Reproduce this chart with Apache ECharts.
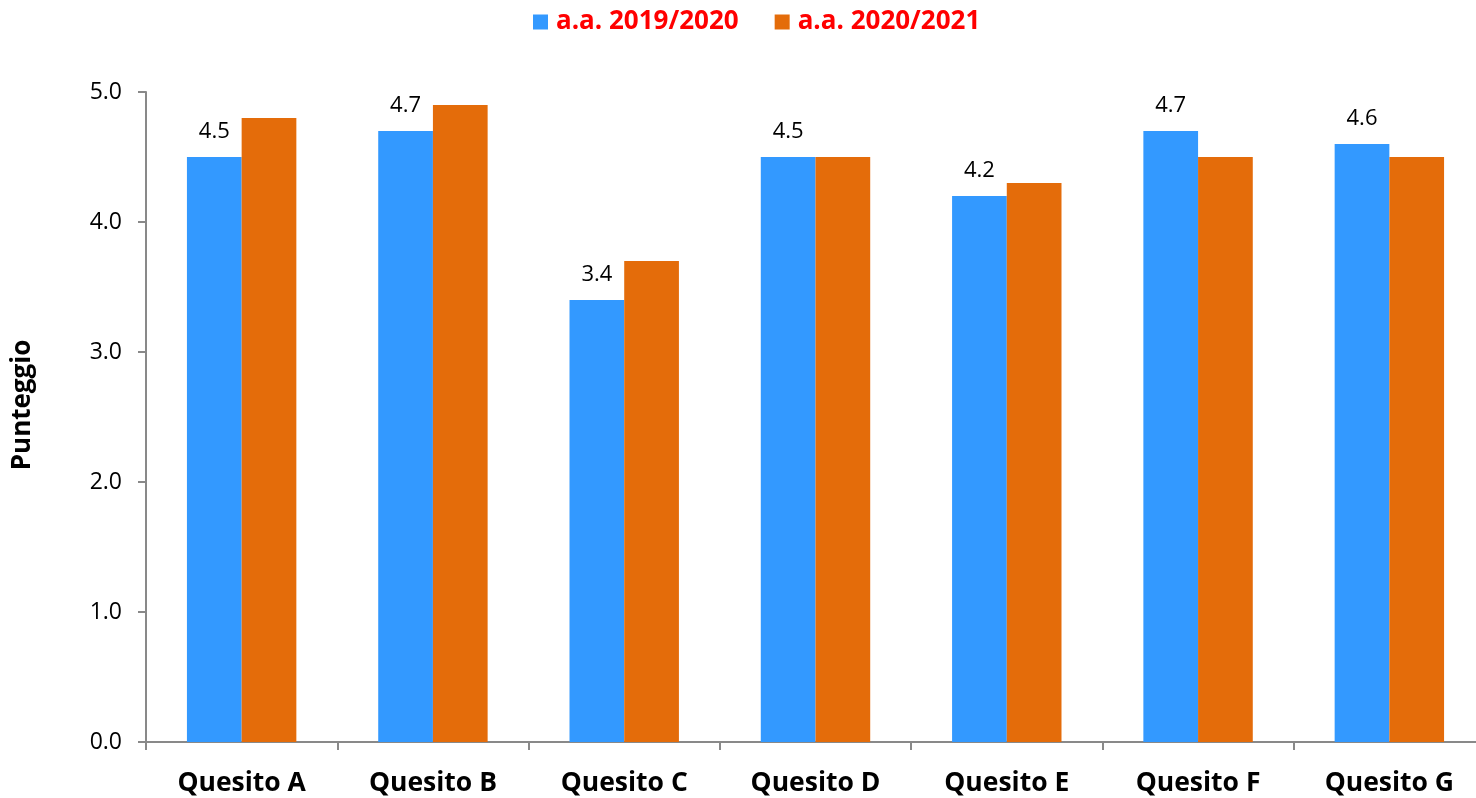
<!DOCTYPE html>
<html><head><meta charset="utf-8">
<script src="https://cdn.jsdelivr.net/npm/echarts@6/dist/echarts.min.js"></script>
<style>html,body{margin:0;padding:0;background:#fff}#c{width:1476px;height:798px}</style>
</head><body><div id="c"></div>
<script>
const categories = ['Quesito A','Quesito B','Quesito C','Quesito D','Quesito E','Quesito F','Quesito G'];
const series2019 = [4.5, 4.7, 3.4, 4.5, 4.2, 4.7, 4.6];
const series2020 = [4.8, 4.9, 3.7, 4.5, 4.3, 4.5, 4.5];
const seriesNames = ['a.a. 2019/2020', 'a.a. 2020/2021'];
const yName = 'Punteggio';
const font = '"Open Sans", sans-serif';
const chart = echarts.init(document.getElementById('c'), null, {renderer:'canvas'});
chart.setOption({
  animation:false,
  textStyle:{fontFamily:font},
  legend:{
    top:4, left:528, itemWidth:15, itemHeight:15, itemGap:36,
    icon:'rect',
    textStyle:{color:'#ff0000', fontWeight:'bold', fontSize:26, fontFamily:font, padding:[0,0,0,3]},
    data:seriesNames
  },
  grid:{left:146, top:92, width:1339, height:650, containLabel:false, outerBoundsMode:'none'},
  xAxis:{
    type:'category', data:categories,
    axisLine:{lineStyle:{color:'#898989', width:2}},
    axisTick:{show:true, length:8, lineStyle:{color:'#898989', width:2}},
    axisLabel:{color:'#000', fontWeight:'bold', fontSize:26.5, margin:28, fontFamily:font}
  },
  yAxis:{
    type:'value', min:0, max:5, interval:1,
    name:yName, nameLocation:'middle', nameGap:110, nameRotate:90,
    nameTextStyle:{color:'#000', fontWeight:'bold', fontSize:26, fontFamily:font, padding:[0,0,0,24]},
    splitLine:{show:false},
    axisLine:{show:true, lineStyle:{color:'#898989', width:2}},
    axisTick:{show:true, length:8, lineStyle:{color:'#898989', width:2}},
    axisLabel:{color:'#000', fontSize:23, margin:24, fontFamily:font, formatter:v=>v.toFixed(1)}
  },
  series:[
    {name:seriesNames[0], type:'bar', data:series2019, barGap:'0%', barCategoryGap:'42.8%',
     itemStyle:{color:'#3399ff'},
     label:{show:true, position:'top', distance:14, color:'#000', fontSize:22, fontFamily:font, formatter:p=>p.value.toFixed(1)}},
    {name:seriesNames[1], type:'bar', data:series2020, barGap:'0%', barCategoryGap:'42.8%',
     itemStyle:{color:'#e46c0a'}}
  ]
});
</script></body></html>
